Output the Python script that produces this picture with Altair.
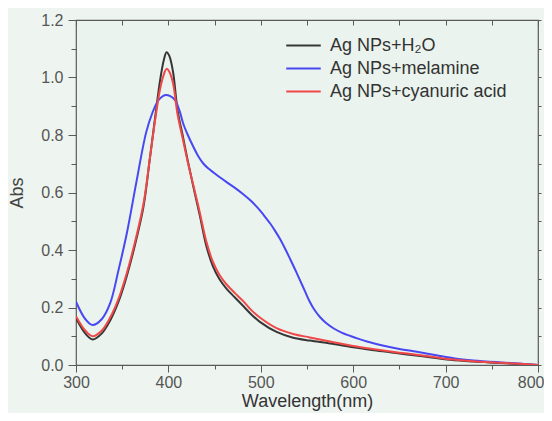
import altair as alt
import pandas as pd

series_names = ["Ag NPs+H\u2082O", "Ag NPs+melamine", "Ag NPs+cyanuric acid"]
series_colors = ["#363636", "#4848f2", "#f04848"]

w_h2o = [300, 310, 318, 328, 337, 346, 355, 364, 373, 380, 386, 391, 395, 398, 401, 405, 410, 416, 421, 427,
         434, 441, 448, 455, 463, 472, 481, 490, 499, 517, 535, 553, 575, 600, 625, 650, 675, 705, 730, 760,
         780, 800]
v_h2o = [0.163, 0.11, 0.089, 0.11, 0.155, 0.22, 0.31, 0.42, 0.55, 0.72, 0.87, 0.99, 1.06, 1.088, 1.075, 1.02,
         0.885, 0.79, 0.71, 0.62, 0.52, 0.415, 0.345, 0.30, 0.265, 0.235, 0.205, 0.175, 0.15, 0.115, 0.095,
         0.085, 0.075, 0.062, 0.05, 0.04, 0.03, 0.018, 0.012, 0.007, 0.003, 0.0]

w_cya = w_h2o
v_cya = [0.17, 0.12, 0.10, 0.12, 0.165, 0.23, 0.32, 0.43, 0.56, 0.72, 0.86, 0.96, 1.01, 1.03, 1.02, 0.98,
         0.87, 0.78, 0.705, 0.625, 0.53, 0.43, 0.36, 0.315, 0.28, 0.25, 0.222, 0.19, 0.165, 0.128, 0.108,
         0.096, 0.082, 0.066, 0.054, 0.043, 0.033, 0.02, 0.013, 0.008, 0.004, 0.0]

w_mel = [300, 310, 318, 328, 337, 346, 355, 365, 376, 383, 388, 393, 397, 402, 407, 412, 416, 421, 427, 432,
         438, 443, 449, 456, 463, 472, 481, 489, 496, 503, 510, 516, 521, 527, 532, 537, 542, 548, 553, 558,
         564, 571, 579, 588, 597, 606, 615, 633, 650, 669, 690, 710, 730, 760, 780, 800]
v_mel = [0.22, 0.16, 0.139, 0.16, 0.215, 0.33, 0.458, 0.63, 0.81, 0.88, 0.915, 0.933, 0.939, 0.935, 0.922,
         0.885, 0.84, 0.8, 0.759, 0.728, 0.70, 0.684, 0.669, 0.652, 0.636, 0.616, 0.594, 0.572, 0.549, 0.522,
         0.493, 0.464, 0.437, 0.40, 0.367, 0.333, 0.298, 0.255, 0.22, 0.192, 0.167, 0.145, 0.127, 0.112,
         0.101, 0.091, 0.082, 0.067, 0.056, 0.046, 0.034, 0.023, 0.016, 0.009, 0.005, 0.0]

x_ticks = [300, 350, 400, 450, 500, 550, 600, 650, 700, 750, 800]
y_ticks = [0.0, 0.1, 0.2, 0.3, 0.4, 0.5, 0.6, 0.7, 0.8, 0.9, 1.0, 1.1, 1.2]

rows = []
for name, ws, vs in [(series_names[0], w_h2o, v_h2o), (series_names[1], w_mel, v_mel),
                     (series_names[2], w_cya, v_cya)]:
    for i, (w, v) in enumerate(zip(ws, vs)):
        rows.append({"series": name, "wavelength": w, "abs": v, "order": i})
df = pd.DataFrame(rows)

font = "Liberation Sans"
axis_color = "#5a5a5a"
x_major = "datum.value % 100 === 0"
y_major = "round(datum.value * 10) % 2 === 0"
x_last = "datum.value >= 799"

x_scale = alt.Scale(domain=[300, 800], nice=False, zero=False)
y_scale = alt.Scale(domain=[0, 1.2], nice=False, zero=False)

base = alt.Chart(df).mark_line(strokeWidth=2, interpolate="catmull-rom", clip=True).encode(
    x=alt.X("wavelength:Q", scale=x_scale,
            axis=alt.Axis(title="Wavelength(nm)", values=x_ticks,
                          labelExpr=x_major + " ? datum.label : ''",
                          grid=False, domain=False, labelFlush=False,
                          labelAlign={"condition": {"test": x_last, "value": "right"}, "value": "center"},
                          labelOffset={"condition": {"test": x_last, "value": 6}, "value": 0},
                          tickSize={"condition": {"test": x_major, "value": 7}, "value": 4},
                          tickColor=axis_color,
                          labelColor="#555555", labelFontSize=16, labelFont=font,
                          titleFont=font, titleFontSize=18, titleColor="#333333",
                          titleFontWeight="normal", titlePadding=2, labelPadding=2)),
    y=alt.Y("abs:Q", scale=y_scale,
            axis=alt.Axis(title="Abs", values=y_ticks,
                          labelExpr="(" + y_major + ") ? format(datum.value, '.1f') : ''",
                          grid=False, domain=False, labelFlush=False,
                          tickSize={"condition": {"test": y_major, "value": 8}, "value": 5},
                          tickColor=axis_color,
                          labelColor="#555555", labelFontSize=16, labelFont=font,
                          titleFont=font, titleFontSize=18, titleColor="#444444",
                          titleFontWeight="normal", titlePadding=14, labelPadding=5)),
    color=alt.Color("series:N", scale=alt.Scale(domain=series_names, range=series_colors),
                    legend=alt.Legend(title=None, orient="none", legendX=215, legendY=13,
                                      symbolType="M-1.5,0H1.5", symbolSize=529, symbolStrokeWidth=2,
                                      labelFont=font, labelFontSize=18, labelColor="#333333",
                                      labelLimit=400, rowPadding=1, labelOffset=14)),
    order=alt.Order("order:Q"),
    detail="series:N",
)

frame_axes = alt.Chart(df).mark_line(opacity=0).encode(
    x=alt.X("wavelength:Q", scale=x_scale,
            axis=alt.Axis(orient="top", title=None, labels=False, values=x_ticks, grid=False,
                          domain=False, offset=-5, tickSize=5, tickColor=axis_color)),
    y=alt.Y("abs:Q", scale=y_scale,
            axis=alt.Axis(orient="right", title=None, labels=False, values=y_ticks, grid=False,
                          domain=False, tickSize=3, tickColor=axis_color)),
    detail="series:N",
)

chart = alt.layer(frame_axes, base).resolve_axis(x="independent", y="independent").properties(
    width=462, height=345,
    autosize=alt.AutoSizeParams(type="none"),
    padding={"left": 68, "top": 12, "right": 6, "bottom": 48},
    background="#eef5f0",
).configure_view(stroke=axis_color, strokeWidth=1.2, fill="#eaf3ee")

chart.save("out.html", embed_options={"renderer": "svg", "actions": False})
